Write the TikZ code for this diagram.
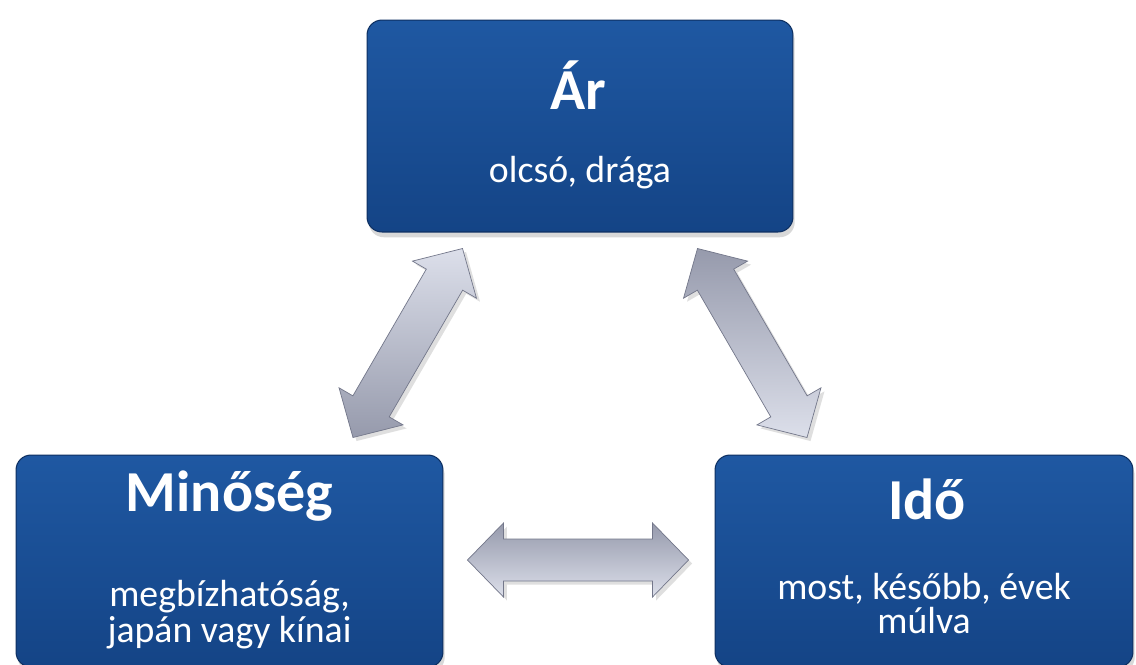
\documentclass[tikz,border=0pt]{standalone}
\usepackage{fontspec}
\setmainfont{Carlito}
\usetikzlibrary{calc,shadows}

\definecolor{boxtop}{RGB}{31,88,162}
\definecolor{boxbot}{RGB}{20,68,134}
\definecolor{boxedge}{RGB}{14,48,98}
\definecolor{arrdark}{RGB}{150,154,172}
\definecolor{arrmid}{RGB}{186,190,206}
\definecolor{arrlight}{RGB}{220,223,234}
\definecolor{arredge}{RGB}{115,119,138}

\newcommand{\headlen}{0.72cm}
\newcommand{\headwid}{0.74cm}
\newcommand{\shaftwid}{0.42cm}
% fat double arrow from #2 to #3
\newcommand{\fatarrow}[3][]{%
\path[#1] (#2) -- ($(#2)!\headlen!(#3)!\headwid!90:(#3)$) -- ($(#2)!\headlen!(#3)!\shaftwid!90:(#3)$)
  -- ($(#3)!\headlen!(#2)!\shaftwid!-90:(#2)$) -- ($(#3)!\headlen!(#2)!\headwid!-90:(#2)$) -- (#3)
  -- ($(#3)!\headlen!(#2)!\headwid!90:(#2)$) -- ($(#3)!\headlen!(#2)!\shaftwid!90:(#2)$)
  -- ($(#2)!\headlen!(#3)!\shaftwid!-90:(#3)$) -- ($(#2)!\headlen!(#3)!\headwid!-90:(#3)$) -- cycle;}

\begin{document}
\begin{tikzpicture}[x=0.02cm,y=-0.02cm,
  box/.style={rounded corners=0.3cm,draw=boxedge,line width=0.6pt,top color=boxtop,bottom color=boxbot,
    drop shadow={shadow xshift=1pt,shadow yshift=-3pt,opacity=0.3},minimum height=4.24cm,inner sep=0pt},
  ttl/.style={text=white,font=\bfseries\fontsize{33}{36}\selectfont,anchor=base,inner sep=0pt},
  sub/.style={text=white,font=\fontsize{21.5}{24}\selectfont,anchor=base,inner sep=0pt},
  fat/.style={draw=arredge,line width=0.4pt,drop shadow={shadow xshift=2pt,shadow yshift=-2pt,opacity=0.25}}]
\useasboundingbox (0,0) rectangle (1136,664);
\clip (0,0) rectangle (1136,664);
\fill[white] (0,0) rectangle (1136,664);

% boxes
\node[box,minimum width=8.52cm] (ar) at (580,126) {};
\node[box,minimum width=8.54cm] (min) at (229.5,561) {};
\node[box,minimum width=8.36cm] (ido) at (924,561) {};

\node[ttl] (artitle) at ($(ar.north)+(-2,90)$) {Ár};
\node[sub] (artext) at ($(ar.north)+(0,163)$) {olcsó, drága};
\node[ttl] (mintitle) at ($(min.north)+(0,57)$) {Minőség};
\node[sub] (mintext) at ($(min.north)+(0,152)$) {megbízhatóság,};
\node[sub] (mintext2) at ($(min.north)+(0,188)$) {japán vagy kínai};
\node[ttl] (idotitle) at ($(ido.north)+(3,65)$) {Idő};
\node[sub] (idotext) at ($(ido.north)+(0,145)$) {most, később, évek};
\node[sub] (idotext2) at ($(ido.north)+(0,179)$) {múlva};

% arrow ends
\coordinate (l1) at ($(ar.south west)+(96,16)$);
\coordinate (l2) at ($(min.north)+(123.5,-17)$);
\coordinate (r1) at ($(ar.south east)+(-96,16)$);
\coordinate (r2) at ($(ido.north)+(-117,-17)$);
\coordinate (h1) at ($(min.east)+(24,-1)$);
\coordinate (h2) at ($(ido.west)+(-26,-1)$);

\fatarrow[fat,shading angle=60,top color=arrlight,middle color=arrmid,bottom color=arrdark]{l2}{l1}
\fatarrow[fat,shading angle=-60,top color=arrdark,middle color=arrmid,bottom color=arrlight]{r1}{r2}
\fatarrow[fat,top color=arrdark,middle color=arrmid,bottom color=arrlight]{h1}{h2}
\end{tikzpicture}
\end{document}
